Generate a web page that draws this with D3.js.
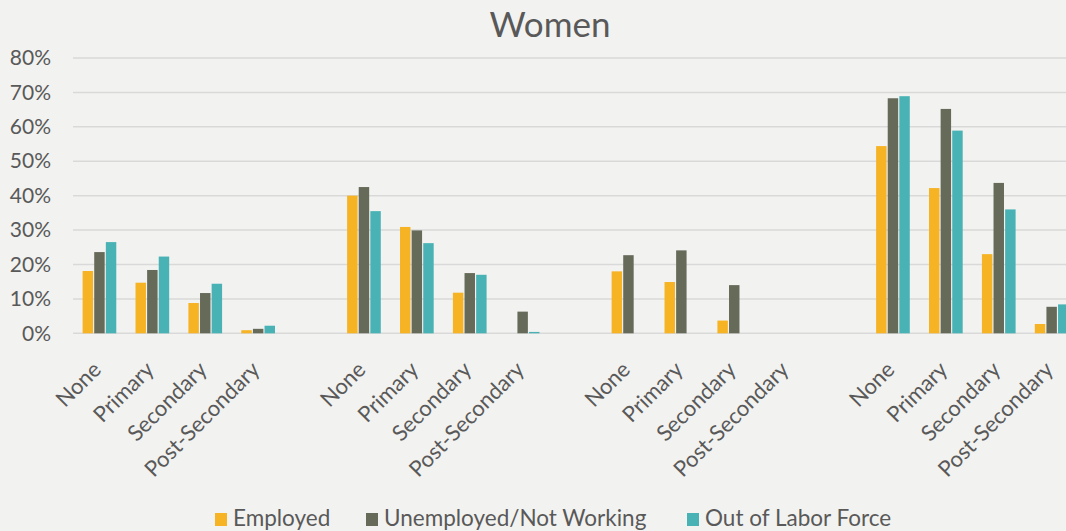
<!DOCTYPE html>
<html>
<head>
<meta charset="utf-8">
<script src="https://cdn.jsdelivr.net/npm/d3@7"></script>
<style>
  body { margin: 0; background: #f2f2f0; }
  svg { display: block; font-family: Lato, "Open Sans", sans-serif; }
</style>
</head>
<body>
<svg id="chart" width="1066" height="531"></svg>
<script>
// education levels, repeated in each of the 4 groups
const levels = ["None", "Primary", "Secondary", "Post-Secondary"];
const seriesNames = ["Employed", "Unemployed/Not Working", "Out of Labor Force"];
const colors = ["#f6b324", "#666a58", "#48b2b5"];
const yTicks = [0, 0.1, 0.2, 0.3, 0.4, 0.5, 0.6, 0.7, 0.8];

// values per group, one array per series (None, Primary, Secondary, Post-Secondary)
const employed = [
  [0.181, 0.147, 0.088, 0.009],
  [0.400, 0.309, 0.118, 0.000],
  [0.180, 0.149, 0.037, 0.000],
  [0.544, 0.422, 0.230, 0.027]
];
const unemployed = [
  [0.236, 0.184, 0.117, 0.013],
  [0.425, 0.299, 0.175, 0.063],
  [0.227, 0.241, 0.140, 0.000],
  [0.683, 0.652, 0.437, 0.077]
];
const outOfLabor = [
  [0.265, 0.223, 0.144, 0.022],
  [0.355, 0.262, 0.170, 0.004],
  [0.000, 0.000, 0.000, 0.000],
  [0.689, 0.589, 0.360, 0.084]
];

const svg = d3.select("#chart");
const W = 1066, H = 531;
const margin = {left: 73, top: 58};
const plotBottom = 333.3;

// categories: 4 groups of 4 levels with one empty slot between groups
const cats = [];
for (let g = 0; g < 4; g++) {
  levels.forEach((l, i) => cats.push({key: g + "-" + i, label: l, g: g, i: i}));
  if (g < 3) cats.push({key: "gap" + g, label: "", g: -1});
}

const bandW = 52.9;
const x = d3.scaleBand()
  .domain(cats.map(d => d.key))
  .range([margin.left, margin.left + bandW * cats.length]);

const y = d3.scaleLinear().domain([0, 0.8]).range([plotBottom, margin.top]);

const x1 = d3.scaleBand().domain(d3.range(3)).range([-18, 18]).padding(0.1);

// title
svg.append("text")
  .attr("x", 550).attr("y", 37)
  .attr("text-anchor", "middle")
  .attr("fill", "#595959")
  .style("font-size", "35px")
  .text("Women");

// gridlines
svg.append("g").selectAll("line")
  .data(yTicks)
  .join("line")
  .attr("x1", margin.left).attr("x2", W)
  .attr("y1", d => y(d)).attr("y2", d => y(d))
  .attr("stroke", "#d9d9d9")
  .attr("stroke-width", 1.5);

// y axis labels
const yAxis = d3.axisLeft(y).tickValues(yTicks).tickFormat(d3.format(".0%")).tickSize(0).tickPadding(22);
svg.append("g")
  .attr("transform", "translate(" + margin.left + ",0)")
  .call(yAxis)
  .call(g => g.select(".domain").remove())
  .selectAll("text")
  .attr("fill", "#595959")
  .style("font-size", "21px")
  .style("font-family", "Lato, sans-serif");

// bars
const allSeries = [employed, unemployed, outOfLabor];
const barData = [];
cats.filter(c => c.g >= 0).forEach(c => {
  allSeries.forEach((s, si) => {
    barData.push({cat: c.key, s: si, v: s[c.g][c.i]});
  });
});

svg.append("g").selectAll("rect")
  .data(barData.filter(d => d.v > 0))
  .join("rect")
  .attr("x", d => x(d.cat) + x.bandwidth() / 2 + x1(d.s))
  .attr("width", x1.bandwidth())
  .attr("y", d => y(d.v))
  .attr("height", d => plotBottom - y(d.v))
  .attr("fill", d => colors[d.s]);

// x labels, rotated
svg.append("g").selectAll("text")
  .data(cats.filter(c => c.label))
  .join("text")
  .attr("transform", d => "translate(" + (x(d.key) + x.bandwidth() / 2 + 3) + ",371) rotate(-45)")
  .attr("text-anchor", "end")
  .attr("fill", "#595959")
  .style("font-size", "22px")
  .text(d => d.label);

// legend
const legendX = [215, 366, 687];
const lg = svg.append("g").selectAll("g")
  .data(seriesNames)
  .join("g")
  .attr("transform", (d, i) => "translate(" + legendX[i] + ",513)");
lg.append("rect").attr("width", 12).attr("height", 13).attr("fill", (d, i) => colors[i]);
lg.append("text")
  .attr("x", 18).attr("y", 13)
  .attr("fill", "#595959")
  .style("font-size", "22.5px")
  .text(d => d);
</script>
</body>
</html>
